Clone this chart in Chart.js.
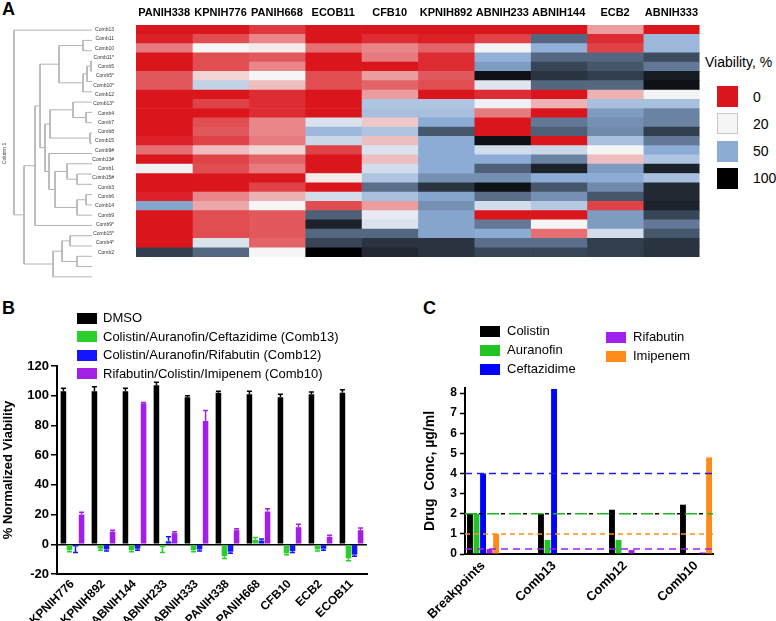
<!DOCTYPE html>
<html>
<head>
<meta charset="utf-8">
<script src="https://cdn.jsdelivr.net/npm/chart.js@4.4.1/dist/chart.umd.min.js"></script>
<style>
  body { margin: 0; width: 776px; height: 621px; background: #fff; position: relative; overflow: hidden;
         font-family: "Liberation Sans", Arial, sans-serif; color: #000; }
  canvas { position: absolute; }
  .tag { position: absolute; font-size: 18px; font-weight: bold; line-height: 18px; }
  .key { position: absolute; white-space: nowrap; font-size: 13px; line-height: 14px; }
  .key i { position: absolute; display: block; }
</style>
</head>
<body>
<div class="tag" style="left:2px;top:0px">A</div>
<div class="tag" style="left:2px;top:299px">B</div>
<div class="tag" style="left:423px;top:299px">C</div>

<canvas id="dendro" width="93" height="282" style="left:0;top:0"></canvas>
<canvas id="heat" width="613" height="282" style="left:90px;top:0"></canvas>
<canvas id="chartB" width="400" height="331" style="left:0;top:290px"></canvas>
<canvas id="chartC" width="376" height="331" style="left:400px;top:290px"></canvas>
<div id="legends"></div>

<script>
// ---- panel A: viability heatmap ----
const strains = ['PANIH338', 'KPNIH776', 'PANIH668', 'ECOB11', 'CFB10', 'KPNIH892', 'ABNIH233', 'ABNIH144', 'ECB2', 'ABNIH333'];
const combos = ['Comb13', 'Comb11', 'Comb10', 'Comb11*', 'Comb5', 'Comb5*', 'Comb10*', 'Comb12', 'Comb13*', 'Comb4',
  'Comb7', 'Comb8', 'Comb15', 'Comb9#', 'Comb13#', 'Comb1', 'Comb15#', 'Comb3', 'Comb6', 'Comb14',
  'Comb9', 'Comb9*', 'Comb15*', 'Comb4*', 'Comb2'];
// viability % (rows = combos, columns = strains)
const viability = [
  [0, 0, 3, 0, 0, 0, 0, 0, 12, 0],
  [1, 5, 10, 0, 2, 1, 4, 70, 2, 45],
  [9, 20, 19, 8, 10, 7, 21, 48, 4, 45],
  [0, 5, 6, 0, 9, 2, 48, 70, 70, 78],
  [0, 5, 10, 0, 0, 2, 55, 80, 75, 65],
  [6, 17, 20, 5, 12, 6, 95, 85, 82, 92],
  [6, 35, 15, 5, 7, 5, 26, 70, 70, 95],
  [0, 0, 2, 0, 12, 0, 2, 0, 14, 21],
  [0, 4, 2, 0, 40, 40, 22, 14, 42, 42],
  [0, 0, 2, 0, 42, 42, 9, 0, 55, 62],
  [0, 5, 10, 28, 16, 50, 0, 65, 58, 62],
  [0, 6, 10, 45, 40, 75, 0, 72, 60, 82],
  [1, 4, 9, 32, 15, 50, 95, 0, 42, 65],
  [8, 15, 17, 4, 28, 50, 30, 32, 20, 50],
  [0, 4, 7, 0, 15, 50, 50, 62, 15, 40],
  [22, 5, 9, 0, 30, 50, 72, 90, 55, 90],
  [0, 0, 0, 19, 40, 58, 58, 50, 50, 42],
  [0, 0, 4, 0, 68, 85, 95, 75, 60, 88],
  [1, 10, 14, 30, 42, 52, 68, 58, 75, 88],
  [52, 13, 20, 5, 12, 58, 30, 38, 4, 90],
  [0, 5, 6, 72, 24, 52, 0, 0, 55, 80],
  [0, 5, 6, 90, 28, 52, 65, 20, 55, 65],
  [0, 5, 6, 70, 70, 52, 50, 8, 30, 75],
  [0, 28, 7, 80, 85, 85, 68, 68, 82, 85],
  [82, 70, 20, 100, 88, 85, 80, 80, 82, 85]
];
// dendrogram joins, bottom up: [node, child, child, distance]
const joins = [
  ['A', 'Comb11*', 'Comb5', 1], ['B', 'A', 'Comb5*', 5], ['C', 'B', 'Comb10*', 9],
  ['D', 'Comb11', 'Comb10', 9], ['E', 'D', 'C', 33],
  ['F', 'Comb13*', 'Comb4', 6], ['G', 'Comb12', 'F', 19], ['H', 'Comb7', 'Comb8', 2], ['I', 'G', 'H', 42],
  ['J', 'Comb13#', 'Comb1', 15], ['K', 'Comb9#', 'J', 25], ['L', 'Comb15#', 'Comb3', 6], ['M', 'L', 'Comb6', 15],
  ['N', 'K', 'M', 37], ['O', 'Comb15', 'N', 43], ['P', 'I', 'O', 47], ['Q', 'E', 'P', 52], ['R', 'Q', 'Comb14', 57],
  ['S', 'Comb9', 'Comb9*', 22], ['T', 'Comb15*', 'Comb4*', 15], ['U', 'S', 'T', 30], ['V', 'U', 'Comb2', 39],
  ['W', 'R', 'V', 68], ['root', 'Comb13', 'W', 78]
];
const scaleStops = [0, 20, 50, 100];

// ---- panel B: normalized viability ----
const bStrains = ['KPNIH776', 'KPNIH892', 'ABNIH144', 'ABNIH233', 'ABNIH333', 'PANIH338', 'PANIH668', 'CFB10', 'ECB2', 'ECOB11'];
const bSeries = ['DMSO', 'Colistin/Auranofin/Ceftazidime (Comb13)', 'Colistin/Auranofin/Rifabutin (Comb12)', 'Rifabutin/Colistin/Imipenem (Comb10)'];
const dmso = [103, 103, 103, 107, 99, 102, 101, 99, 101, 102];
const dmsoErr = [2, 3, 2, 2, 1, 1, 2, 2, 1.5, 2];
const comb13 = [-4, -3, -4, -2, -4, -8, 3, -6, -3.5, -9.5];
const comb13Err = [1, 1, 1, 3.5, 1, 1.5, 1.5, 1, 1, 1.5];
const comb12 = [-1.5, -3.5, -3, 2, -3.5, -5, 2.5, -4.5, -3, -7];
const comb12Err = [4, 1, 1, 3, 1, 1, 1, 1, 1, 1];
const comb10 = [20, 8.5, 95, 7.5, 83, 9.5, 22, 11.5, 5, 9.5];
const comb10Err = [1.5, 1, 0.5, 1, 7, 1, 2, 2, 1, 1.5];
const bTicks = [-20, 0, 20, 40, 60, 80, 100, 120];

// ---- panel C: drug concentrations ----
const cGroups = ['Breakpoints', 'Comb13', 'Comb12', 'Comb10'];
const drugs = ['Colistin', 'Auranofin', 'Ceftazidime', 'Rifabutin', 'Imipenem'];
const colistin = [2, 2, 2.2, 2.45];
const auranofin = [2, 0.7, 0.7, null];
const ceftazidime = [4, 8.2, null, null];
const rifabutin = [0.25, null, 0.2, 0.08];
const imipenem = [1, null, null, 4.8];
const cTicks = [0, 1, 2, 3, 4, 5, 6, 7, 8];

Chart.defaults.font.family = '"Liberation Sans", Arial, sans-serif';
Chart.defaults.color = '#000';
Chart.defaults.animation = false;
Chart.defaults.plugins.legend.display = false;
Chart.defaults.plugins.tooltip.enabled = false;

// colour ramp of the heatmap
const rampColors = [[218, 22, 28], [245, 245, 245], [140, 172, 214], [0, 0, 0]];
function viaColor(v) {
  let k = 0;
  while (k < scaleStops.length - 2 && v > scaleStops[k + 1]) k++;
  const t = (v - scaleStops[k]) / (scaleStops[k + 1] - scaleStops[k]);
  const a = rampColors[k], b = rampColors[k + 1];
  return 'rgb(' + a.map((c, i) => Math.round(c + (b[i] - c) * t)).join(',') + ')';
}

// heatmap: one floating-bar dataset per strain column
new Chart(document.getElementById('heat'), {
  type: 'bar',
  data: {
    labels: combos,
    datasets: strains.map((s, c) => ({
      label: s,
      data: combos.map(() => [c, c + 1]),
      backgroundColor: viability.map(row => viaColor(row[c])),
      borderWidth: 0,
      grouped: false,
      barPercentage: 1,
      categoryPercentage: 1
    }))
  },
  options: {
    responsive: false,
    indexAxis: 'y',
    layout: { padding: 0 },
    scales: {
      x: {
        type: 'linear', position: 'top', min: 0, max: strains.length,
        grid: { display: false, drawTicks: false }, border: { display: false },
        afterBuildTicks: s => { s.ticks = strains.map((_, i) => ({ value: i + 0.5 })); },
        afterFit: s => { s.height = 25; },
        ticks: { autoSkip: false, maxRotation: 0, padding: 5, font: { size: 11, weight: 'bold' },
                 callback: (v, i) => strains[i] }
      },
      y: {
        grid: { display: false, drawTicks: false }, border: { display: false },
        afterFit: s => { s.width = 46; },
        ticks: { autoSkip: false, padding: 22, font: { size: 5 }, color: '#333' }
      }
    }
  }
});

// dendrogram built from the joins
const nodePos = {};
combos.forEach((c, i) => { nodePos[c] = { x: 0, y: i }; });
const dendroSets = joins.map(([id, a, b, h]) => {
  const pa = nodePos[a], pb = nodePos[b];
  nodePos[id] = { x: h, y: (pa.y + pb.y) / 2 };
  return {
    data: [{ x: pa.x, y: pa.y }, { x: h, y: pa.y }, { x: h, y: pb.y }, { x: pb.x, y: pb.y }],
    showLine: true, borderColor: '#b4b4b4', borderWidth: 1, pointRadius: 0, clip: false
  };
});
new Chart(document.getElementById('dendro'), {
  type: 'scatter',
  data: { datasets: dendroSets },
  options: {
    responsive: false,
    layout: { padding: { top: 25, right: 1 } },
    scales: {
      x: { type: 'linear', display: false, min: 0, max: 78, reverse: true },
      y: {
        type: 'linear', min: -0.5, max: combos.length - 0.5, reverse: true,
        afterFit: s => { s.width = 14; },
        ticks: { display: false }, grid: { display: false }, border: { display: false },
        title: { display: true, text: 'Column 1', font: { size: 5 }, color: '#444', padding: { top: 2, bottom: 0 } }
      }
    }
  }
});

// error bars for panel B
const errorBars = {
  id: 'errorBars',
  afterDatasetsDraw(chart, args, opts) {
    const ctx = chart.ctx, y = chart.scales.y;
    chart.data.datasets.forEach((ds, i) => {
      const errs = opts.errors[i];
      chart.getDatasetMeta(i).data.forEach((bar, j) => {
        const v = ds.data[j];
        const tip = y.getPixelForValue(v >= 0 ? v + errs[j] : v - errs[j]);
        ctx.save();
        ctx.strokeStyle = ds.backgroundColor;
        ctx.lineWidth = 1.5;
        ctx.beginPath();
        ctx.moveTo(bar.x, bar.y); ctx.lineTo(bar.x, tip);
        ctx.moveTo(bar.x - 2.5, tip); ctx.lineTo(bar.x + 2.5, tip);
        ctx.stroke();
        ctx.restore();
      });
    });
  }
};

const bColors = ['#000000', '#2bcf2b', '#1414ff', '#a31fe8'];
new Chart(document.getElementById('chartB'), {
  type: 'bar',
  data: {
    labels: bStrains,
    datasets: [dmso, comb13, comb12, comb10].map((vals, k) => ({
      label: bSeries[k], data: vals, backgroundColor: bColors[k],
      categoryPercentage: 0.78, barPercentage: 0.92
    }))
  },
  options: {
    responsive: false,
    layout: { padding: { top: 76, right: 33, left: 0, bottom: 0 } },
    plugins: { errorBars: { errors: [dmsoErr, comb13Err, comb12Err, comb10Err] } },
    scales: {
      x: {
        grid: { display: false, drawTicks: false }, border: { color: '#000', width: 2 },
        afterFit: s => { s.height = 47; },
        ticks: { autoSkip: false, minRotation: 45, maxRotation: 45, padding: 3, font: { size: 12, weight: 'bold' } }
      },
      y: {
        min: -20, max: 120,
        afterBuildTicks: s => { s.ticks = bTicks.map(v => ({ value: v })); },
        afterFit: s => { s.width = 57; },
        grid: { color: c => (c.tick && c.tick.value === 0 ? '#000' : 'rgba(0,0,0,0)'), lineWidth: 1.5,
                tickColor: '#000', tickLength: 6, tickWidth: 1.5 },
        border: { color: '#000', width: 2 },
        ticks: { padding: 2, font: { size: 13, weight: 'bold' } },
        title: { display: true, text: '% Normalized Viability', font: { size: 13, weight: 'bold' }, padding: { top: 1, bottom: 0 } }
      }
    }
  },
  plugins: [errorBars]
});

// panel C: bars on a linear index axis plus breakpoint lines
const cColors = ['#000000', '#22c422', '#0000ff', '#a020f0', '#ff8c1a'];
const cSeries = [colistin, auranofin, ceftazidime, rifabutin, imipenem];
const xMin = -0.254, xMax = 3.239;
const refLine = (v, color, dash, offset) => ({
  type: 'line', data: [{ x: xMin, y: v }, { x: xMax, y: v }], borderColor: color, borderWidth: 1.5,
  borderDash: dash, borderDashOffset: offset || 0, pointRadius: 0, order: -1, clip: false
});
new Chart(document.getElementById('chartC'), {
  type: 'bar',
  data: {
    datasets: cSeries.map((vals, k) => ({
      label: drugs[k],
      data: vals.map((v, i) => ({ x: i, y: v })).filter(p => p.y !== null),
      backgroundColor: cColors[k], categoryPercentage: 0.46, barPercentage: 0.9
    })).concat([
      refLine(ceftazidime[0], '#2020e0', [7, 5]),
      refLine(auranofin[0], '#22b422', [12, 10]),
      refLine(colistin[0], '#000000', [4, 18], -14),
      refLine(imipenem[0], '#ff8c1a', [5, 4]),
      refLine(rifabutin[0], '#a020f0', [7, 5])
    ])
  },
  options: {
    responsive: false,
    layout: { padding: { top: 98, right: 63, left: 0, bottom: 0 } },
    scales: {
      x: {
        type: 'linear', min: xMin, max: xMax, offset: false,
        grid: { display: false, drawTicks: false }, border: { color: '#000', width: 2 },
        afterBuildTicks: s => { s.ticks = cGroups.map((_, i) => ({ value: i })); },
        afterFit: s => { s.height = 67; },
        ticks: { autoSkip: false, minRotation: 45, maxRotation: 45, padding: 4, font: { size: 13, weight: 'bold' },
                 callback: (v, i) => cGroups[i] }
      },
      y: {
        min: 0, max: 8.25,
        afterBuildTicks: s => { s.ticks = cTicks.map(v => ({ value: v })); },
        afterFit: s => { s.width = 65; },
        grid: { drawOnChartArea: false, tickColor: '#000', tickLength: 5, tickWidth: 1.5 },
        border: { color: '#000', width: 2 },
        ticks: { padding: 3, font: { size: 12, weight: 'bold' } },
        title: { display: true, text: 'Drug  Conc, µg/ml', font: { size: 14, weight: 'bold' }, padding: { top: 22, bottom: 0 } }
      }
    }
  }
});

// legends as plain text
const legends = document.getElementById('legends');
function addKey(x, yc, w, h, color, label, textX, size, border) {
  const d = document.createElement('div');
  d.className = 'key';
  d.style.left = textX + 'px';
  d.style.top = (yc - 7) + 'px';
  d.style.fontSize = size + 'px';
  d.textContent = label;
  const sw = document.createElement('i');
  sw.style.left = (x - textX) + 'px';
  sw.style.top = (7 - h / 2) + 'px';
  sw.style.width = w + 'px';
  sw.style.height = h + 'px';
  sw.style.background = color;
  if (border) { sw.style.boxSizing = 'border-box'; sw.style.border = '1px solid ' + border; }
  d.appendChild(sw);
  legends.appendChild(d);
}
// heatmap key
const vt = document.createElement('div');
vt.className = 'key';
vt.style.left = '705px'; vt.style.top = '55px'; vt.style.fontSize = '14px';
vt.textContent = 'Viability, %';
legends.appendChild(vt);
scaleStops.forEach((v, i) => addKey(717, 96.5 + i * 27.3, 21, 21, viaColor(v), String(v), 753, 14, v === 20 ? '#c8c8c8' : null));
// panel B key
bSeries.forEach((s, i) => addKey(77, 318 + i * 18.5, 20, 11, bColors[i], s, 103, 13));
// panel C key (two columns)
const cKeyPos = [[480, 331], [480, 350], [480, 369], [606, 337], [606, 356]];
drugs.forEach((s, i) => addKey(cKeyPos[i][0], cKeyPos[i][1], 20, 11, cColors[i], s, cKeyPos[i][0] + 27, 13));
</script>
</body>
</html>
